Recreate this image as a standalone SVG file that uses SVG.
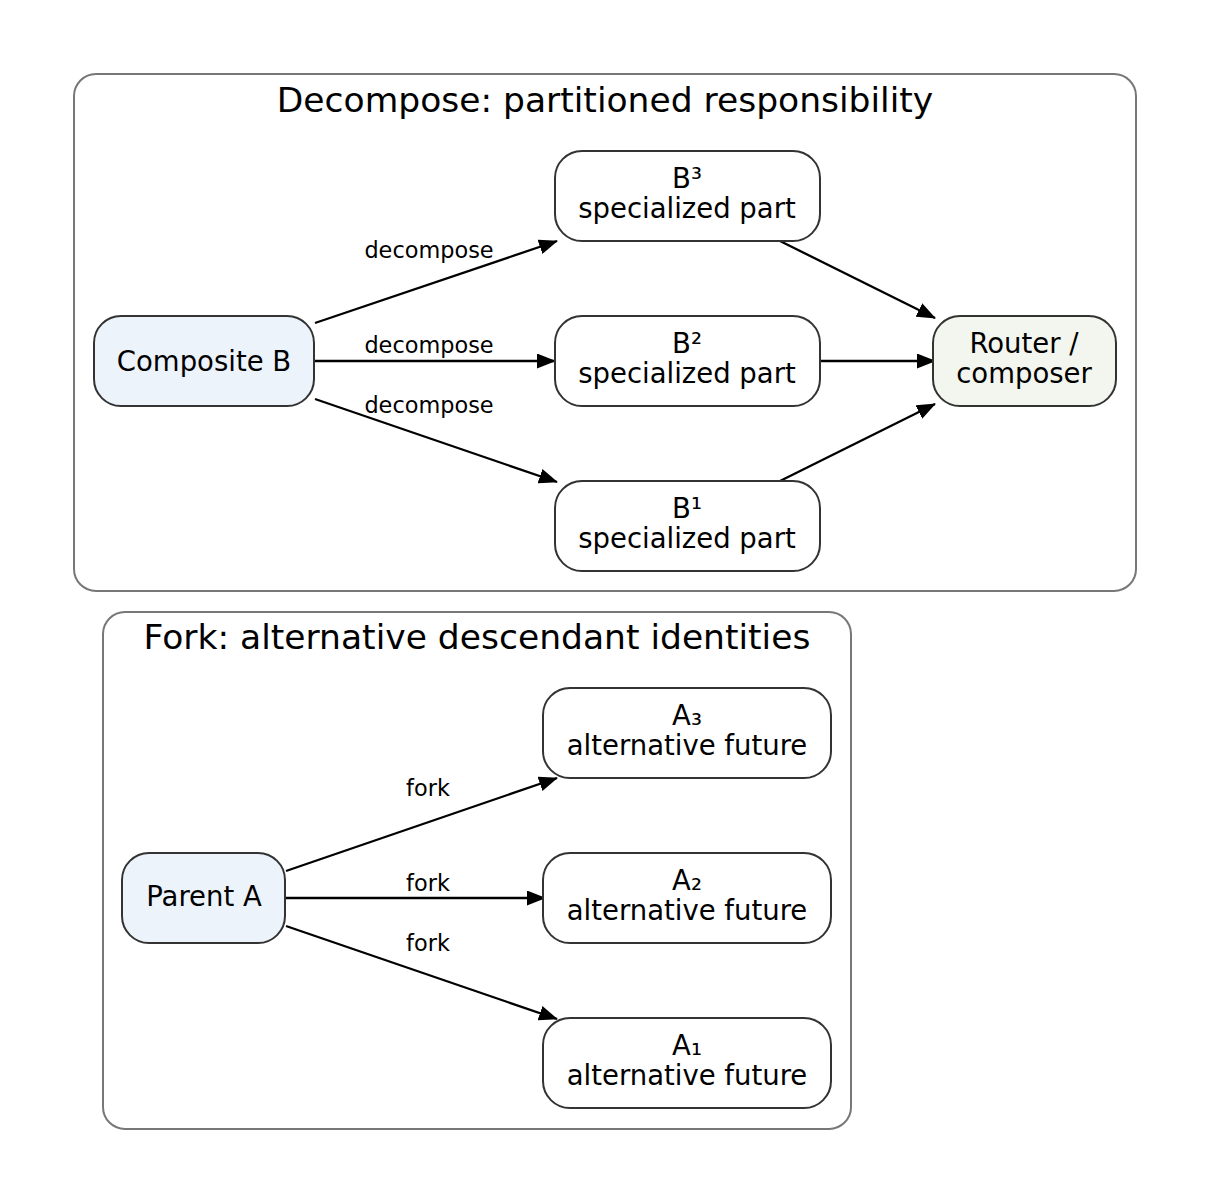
<svg xmlns="http://www.w3.org/2000/svg" width="1211" height="1203" viewBox="0 0 1211 1203">
<defs>
<style>
text{font-family:"DejaVu Sans","Liberation Sans",sans-serif;fill:#000}
.cl{fill:#fff;stroke:#777;stroke-width:2}
.title{font-size:34.5px;text-anchor:middle}
.nd{stroke:#333;stroke-width:2}
.w{fill:#fff}
.b{fill:#edf3fb}
.g{fill:#f3f6ee}
.nt{font-size:27.5px;text-anchor:middle}
.el{font-size:22.4px;text-anchor:middle}
.e{stroke:#000;stroke-width:2.3;fill:none;marker-end:url(#ah)}
</style>
<marker id="ah" markerWidth="19" markerHeight="15" refX="18" refY="7.5" orient="auto" markerUnits="userSpaceOnUse">
<path d="M0,0 L19,7.5 L0,15 Z" fill="#000"/>
</marker>
</defs>
<rect width="1211" height="1203" fill="#fff"/>
<g id="cluster-decompose">
<rect class="cl" x="74" y="74" width="1062" height="517" rx="22"/>
<text class="title" x="605" y="112">Decompose: partitioned responsibility</text>
</g>
<g id="cluster-fork">
<rect class="cl" x="103" y="612" width="748" height="517" rx="22"/>
<text class="title" x="477" y="649">Fork: alternative descendant identities</text>
</g>
<g id="connectors">
<path class="e" d="M315,323 L557,241"/>
<path class="e" d="M315,361 L555,361"/>
<path class="e" d="M315,399 L557,482"/>
<path class="e" d="M780,241 L935,318"/>
<path class="e" d="M820,361 L935,361"/>
<path class="e" d="M780,481 L935,404"/>
<path class="e" d="M286,871 L557,778"/>
<path class="e" d="M286,898 L545,898"/>
<path class="e" d="M286,926 L557,1019"/>
<text class="el" x="429" y="258">decompose</text>
<text class="el" x="429" y="353">decompose</text>
<text class="el" x="429" y="413">decompose</text>
<text class="el" x="428" y="796">fork</text>
<text class="el" x="428" y="891">fork</text>
<text class="el" x="428" y="951">fork</text>
</g>
<g id="node-composite-b">
<rect class="nd b" x="94" y="316" width="220" height="90" rx="27"/>
<text class="nt" x="204" y="371">Composite B</text>
</g>
<g id="node-b3">
<rect class="nd w" x="555" y="151" width="265" height="90" rx="27"/>
<text class="nt" x="687" y="188">B³</text>
<text class="nt" x="687" y="218">specialized part</text>
</g>
<g id="node-b2">
<rect class="nd w" x="555" y="316" width="265" height="90" rx="27"/>
<text class="nt" x="687" y="353">B²</text>
<text class="nt" x="687" y="383">specialized part</text>
</g>
<g id="node-b1">
<rect class="nd w" x="555" y="481" width="265" height="90" rx="27"/>
<text class="nt" x="687" y="518">B¹</text>
<text class="nt" x="687" y="548">specialized part</text>
</g>
<g id="node-router">
<rect class="nd g" x="933" y="316" width="183" height="90" rx="27"/>
<text class="nt" x="1024" y="353">Router /</text>
<text class="nt" x="1024" y="383">composer</text>
</g>
<g id="node-parent-a">
<rect class="nd b" x="122" y="853" width="163" height="90" rx="27"/>
<text class="nt" x="204" y="906">Parent A</text>
</g>
<g id="node-a3">
<rect class="nd w" x="543" y="688" width="288" height="90" rx="27"/>
<text class="nt" x="687" y="725">A₃</text>
<text class="nt" x="687" y="755">alternative future</text>
</g>
<g id="node-a2">
<rect class="nd w" x="543" y="853" width="288" height="90" rx="27"/>
<text class="nt" x="687" y="890">A₂</text>
<text class="nt" x="687" y="920">alternative future</text>
</g>
<g id="node-a1">
<rect class="nd w" x="543" y="1018" width="288" height="90" rx="27"/>
<text class="nt" x="687" y="1055">A₁</text>
<text class="nt" x="687" y="1085">alternative future</text>
</g>
</svg>
